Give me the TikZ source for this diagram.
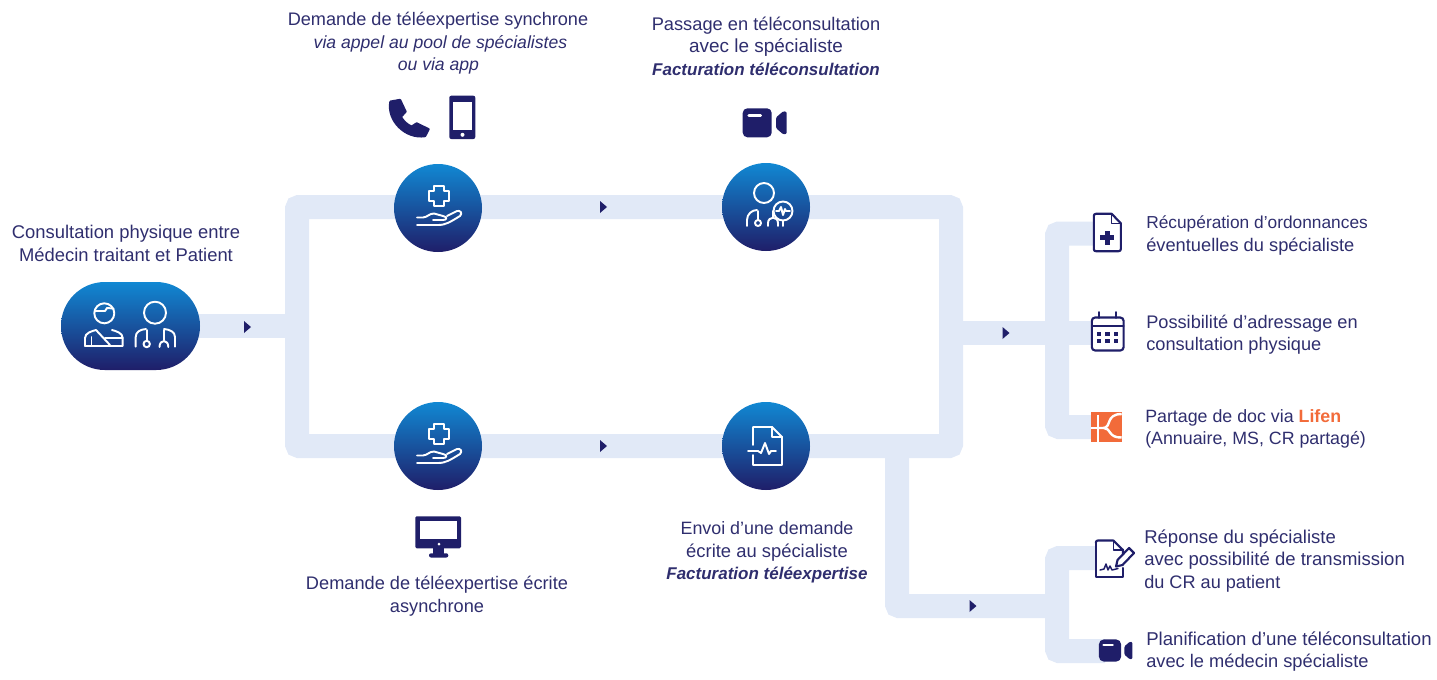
\documentclass[tikz,border=0pt]{standalone}
\usepackage{fontspec}
\setmainfont{Liberation Sans}
\usetikzlibrary{backgrounds}
\definecolor{navy}{HTML}{1F1E69}
\definecolor{txt}{HTML}{2F2E6E}
\definecolor{railc}{HTML}{E1E9F7}
\definecolor{sky}{HTML}{1188D3}
\definecolor{lifen}{HTML}{F26B3A}
\newcommand{\fs}[1]{\fontsize{#1}{16.9}\selectfont}
\newcommand{\bfi}[1]{{\fontsize{12.75}{16.9}\selectfont\bfseries\itshape #1}}
\tikzset{
  rail/.style={draw=railc,line width=18pt,rounded corners=1.6pt,line cap=butt},
  disc/.style={circle,minimum size=66pt,inner sep=0pt,top color=sky,bottom color=navy,draw=none},
  pillbox/.style={rectangle,minimum width=104.25pt,minimum height=66pt,inner sep=0pt,rounded corners=32.9pt,top color=sky,bottom color=navy,draw=none},
  wl/.style={draw=white,line width=1.45pt,line cap=round,line join=round},
  dl/.style={draw=navy,line width=1.6pt,line cap=round,line join=round},
  tri/.style={fill=navy,draw=none},
  lbl/.style={text=txt,inner sep=0pt},
  lc/.style={lbl,align=center},
  ll/.style={lbl,align=left,anchor=west},
  marker/.pic={\fill[tri] (-3.5,-6) -- (3.5,0) -- (-3.5,6) -- cycle;},
  handcross/.pic={
    \draw[wl] (-4,-22) -- (6,-22) -- (6,-17) -- (11,-17) -- (11,-7) -- (6,-7) -- (6,-2) -- (-4,-2) -- (-4,-7) -- (-9,-7) -- (-9,-17) -- (-4,-17) -- cycle;
    \draw[wl] (-21,17) -- (0,17) .. controls (8,17) and (12,14) .. (22,8) .. controls (25,5) and (22,2) .. (19,3) -- (9,8);
    \draw[wl] (-21,9.5) -- (-15,9.5) .. controls (-10,9) and (-9,5.5) .. (-4,5.5) -- (5,8) .. controls (10,9) and (9,12) .. (5,12) -- (-5,12);
  },
  docbadge/.pic={
    \draw[wl] (-2,-14) circle (10);
    \draw[wl] (-19,19) -- (-19,13) .. controls (-19,7) and (-14,3) .. (-9,3);
    \draw[wl] (-8,4) -- (-8,13);
    \draw[wl] (-8,16) circle (3);
    \draw[wl] (2,19) -- (2,16) .. controls (2,9) and (12,9) .. (12,16) -- (12,19);
    \draw[wl] (7,4) -- (7,11);
    \draw[wl] (17,14) -- (17,19);
    \draw[wl] (17,4) circle (9.5);
    \draw[wl] (10,4) -- (13,4) -- (15,0) -- (17,8) -- (19,2) -- (20,4) -- (24,4);
  },
  docpulse/.pic={
    \draw[wl] (-13,-1) -- (-13,-19) -- (6,-19) -- (16,-9) -- (16,19) -- (-13,19) -- (-13,9);
    \draw[wl] (6,-19) -- (6,-9) -- (16,-9);
    \draw[wl] (-18,5) -- (-8,5) -- (-5,7) -- (-1,-3) -- (3,8) -- (5,5) -- (10,5);
  },
  camera/.pic={
    \fill[navy,rounded corners=3.5pt] (-14.5,-14.5) rectangle (14.5,14.5);
    \draw[white,line width=1.9pt,line cap=round] (-8.5,-7.5) -- (3.5,-7.5);
    \fill[navy,rounded corners=.8pt] (19,-5.5) -- (26,-11.5) -- (29.5,-11) -- (29.5,11) -- (26,11.5) -- (19,5.5) -- cycle;
  },
}
\begin{document}
\begin{tikzpicture}[x=.75pt,y=-.75pt]
\useasboundingbox (0,0) rectangle (1437,679);
% discs
\node[pillbox] (pill) at (130.5,326) {};
\node[disc] (a1) at (438,208) {};
\node[disc] (a2) at (766,207) {};
\node[disc] (b1) at (438,446) {};
\node[disc] (b2) at (766,446) {};
% rail junctions
\coordinate (tl) at (297,207);
\coordinate (tr) at (951,207);
\coordinate (bl) at (297,446);
\coordinate (br) at (951,446);
\coordinate (j1) at (297,326);
\coordinate (j2) at (951,333);
\coordinate (j3) at (1057,333);
\coordinate (j4) at (897,446);
\coordinate (j5) at (897,606);
\coordinate (j6) at (1057,606);
\coordinate (ic1) at (1100,233.5);
\coordinate (ic2) at (1100,333);
\coordinate (ic3) at (1100,427);
\coordinate (ic4) at (1100,558);
\coordinate (ic5) at (1105,651);
\begin{pgfonlayer}{background}
\draw[rail] (tl) -- (tr) -- (br) -- (bl) -- cycle;
\draw[rail] (pill.center) -- (j1);
\draw[rail] (j2) -- (ic2);
\draw[rail] (ic1) -- (1057,233.5) -- (1057,427) -- (ic3);
\draw[rail] (j4) -- (j5) -- (j6);
\draw[rail] (ic4) -- (1057,558) -- (1057,651) -- (ic5);
\end{pgfonlayer}
% flow markers
\pic at (247.5,327) {marker};
\pic at (603.5,207) {marker};
\pic at (603.5,446) {marker};
\pic at (1006,333) {marker};
\pic at (973,606) {marker};
% disc icons
\pic at (a1) {handcross};
\pic at (b1) {handcross};
\pic at (a2) {docbadge};
\pic at (b2) {docpulse};
% patient
\draw[wl] (104.3,313.3) circle (10);
\draw[wl] (94.5,311) -- (105,311) -- (107,308) -- (113.5,308.5);
\draw[wl] (85,346) -- (122.7,346) -- (122.7,338) .. controls (122.7,333) and (116,331) .. (112,330);
\draw[wl] (85,346) -- (85,338) .. controls (85,333) and (92,331) .. (96,330) -- (110,345);
\draw[wl] (105,338.3) -- (122.7,338.3);
\draw[wl] (91.5,337) -- (91.5,345);
% doctor
\draw[wl] (155,312.7) circle (11);
\draw[wl] (135.7,346.7) -- (135.7,337) .. controls (135.7,332) and (140,329.5) .. (146,329);
\draw[wl] (175,346.7) -- (175,337) .. controls (175,332) and (170,329.5) .. (164,329);
\draw[wl] (146.7,330) -- (146.7,340.7);
\draw[wl] (146.7,344) circle (3.2);
\draw[wl] (159.5,347) .. controls (159.5,339) and (168.3,339) .. (168.3,347);
\draw[wl] (163.8,330) -- (163.8,340);
% phone
\fill[navy,draw=navy,line width=1.8pt,line join=round] (390.5,101.7) -- (400,100) -- (405.5,111.7) -- (400.7,116.7) .. controls (403,121) and (407,125) .. (411.7,126.7) -- (416.7,123.5) -- (428.5,129.3) -- (425,136) .. controls (405,139) and (387,120) .. (390.5,101.7) -- cycle;
% mobile
\fill[navy,rounded corners=1.5pt] (449.3,95.7) rectangle (475.3,139);
\fill[white] (453.3,101.7) rectangle (471.7,130);
\fill[white] (462.5,134.8) circle (2);
% camera
\pic at (757.2,122.8) {camera};
% monitor
\fill[navy,rounded corners=1pt] (415.3,516.3) rectangle (461,548.3);
\fill[white] (420,521) rectangle (457.3,539);
\fill[white] (439,544) circle (1.5);
\fill[navy] (433,548) rectangle (444,554);
\fill[navy,rounded corners=1.5pt] (429,553.3) rectangle (448.3,557.5);
% right doc with cross
\draw[dl,fill=white] (1093.8,216) .. controls (1093.8,214.5) and (1094.5,213.8) .. (1096,213.8) -- (1111.7,213.8) -- (1120.8,223.3) -- (1120.8,249) .. controls (1120.8,250.5) and (1120,251.2) .. (1118.5,251.2) -- (1096,251.2) .. controls (1094.5,251.2) and (1093.8,250.5) .. (1093.8,249) -- cycle;
\draw[dl,line width=1.1pt] (1111.7,214) -- (1111.7,223.3) -- (1120.8,223.3);
\fill[navy] (1105,230.5) rectangle (1109.7,244.5);
\fill[navy] (1100.3,235.2) rectangle (1114.3,239.8);
% calendar
\draw[dl,fill=white,rounded corners=2.5pt] (1091.8,317.5) rectangle (1123.6,350.5);
\draw[dl] (1092,326) -- (1123.5,326);
\draw[dl,line width=1.3pt] (1099,312) -- (1099,318);
\draw[dl,line width=1.3pt] (1115.7,312) -- (1115.7,318);
\foreach \cx in {1099,1107.5,1116}{\foreach \cy in {334,341}{\fill[navy] (\cx-2.4,\cy-2.4) rectangle (\cx+2.4,\cy+2.4);}}
% lifen
\fill[lifen] (1091,411.7) rectangle (1121.7,441.7);
\draw[white,line width=1.8pt] (1098,414.5) -- (1098,441.7);
\draw[white,line width=1.8pt] (1091,428) -- (1098,428);
\draw[white,line width=1.8pt] (1098,428) -- (1103,428) .. controls (1112,428) and (1105,414) .. (1121.7,414);
\draw[white,line width=1.8pt] (1104,428) .. controls (1111,428) and (1108,438) .. (1121.7,437.5);
% signed doc
\fill[white] (1095.8,541) rectangle (1122,576.5);
\draw[dl] (1095.8,543) .. controls (1095.8,541) and (1096.5,540.5) .. (1098,540.5) -- (1113.3,540.5) -- (1123,550) -- (1123,554);
\draw[dl] (1123,568) -- (1123,577) -- (1095.8,577) -- (1095.8,543);
\draw[dl,line width=1.1pt] (1113.3,541) -- (1113.3,550) -- (1123,550);
\draw[dl,line width=1.1pt] (1100,570) -- (1104,569) -- (1106,564) -- (1108,570) -- (1110,566) -- (1112,570) -- (1118,568.5);
\draw[dl,fill=white] (1116,566.5) -- (1117.5,560) -- (1129,548) -- (1134,553) -- (1122.5,565) -- cycle;
% small camera
\pic[scale=.76] at (1110,650.5) {camera};
% text
\node[lc,font=\fs{13.8}] (t1) at (126,243.5) {Consultation physique entre\\Médecin traitant et Patient};
\node[lc,font=\fs{13.6}] (t2) at (438,43.5) {Demande de téléexpertise synchrone\\{\itshape\fs{13.2} via appel au pool de spécialistes\hspace*{3pt}}\\{\itshape\fs{13.2} ou via app\hspace*{3pt}}};
\node[lc,font=\fs{13.7}] (t3) at (766,46) {Passage en téléconsultation\\{\fs{14.2}avec le spécialiste}\\\bfi{Facturation téléconsultation}};
\node[lc,font=\fs{13.65}] (t4) at (437,596) {Demande de téléexpertise écrite\\asynchrone};
\node[lc,font=\fs{13.4}] (t5) at (767,552.5) {Envoi d’une demande\\{\fs{13.8}écrite au spécialiste}\\\bfi{Facturation téléexpertise}};
\node[ll,font=\fs{13}] (t6) at (1146,235.5) {Récupération d’ordonnances\\{\fs{13.7}éventuelles du spécialiste}};
\node[ll,font=\fs{13.65}] (t7) at (1146,334.5) {Possibilité d’adressage en\\consultation physique};
\node[ll,font=\fs{13.35}] (t8) at (1145,429) {Partage de doc via {\bfseries\color{lifen}Lifen}\\(Annuaire, MS, CR partagé)};
\node[ll,font=\fs{13.9}] (t9) at (1144,561) {Réponse du spécialiste\\avec possibilité de transmission\\{\fs{13.6}du CR au patient}};
\node[ll,font=\fs{13.95}] (t10) at (1146,651.5) {Planification d’une téléconsultation\\{\fs{13.7}avec le médecin spécialiste}};
\end{tikzpicture}
\end{document}
